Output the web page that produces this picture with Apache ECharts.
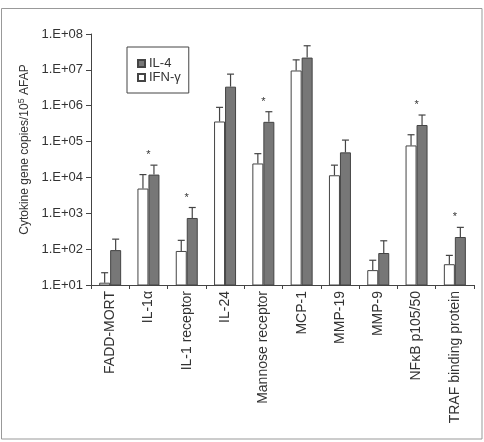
<!DOCTYPE html>
<html><head><meta charset="utf-8">
<script src="https://cdn.jsdelivr.net/npm/echarts@6/dist/echarts.min.js"></script>
<style>html,body{margin:0;padding:0;background:#fff}#c{width:484px;height:442px}</style>
</head><body><div id="c"></div>
<script>
const categories = ['FADD-MORT','IL-1\u03b1','IL-1 receptor','IL-24','Mannose receptor','MCP-1','MMP-19','MMP-9','NF\u03baB p105/50','TRAF binding protein'];
const ifnGamma    = [11.6, 4900, 89, 363000, 24500, 9.6e6, 11500, 26, 78000, 38];
const ifnGammaTop = [22, 12000, 176, 900000, 46000, 1.9e7, 22000, 49, 155000, 67];
const il4         = [94, 12000, 740, 3.4e6, 355000, 2.2e7, 50000, 78, 290000, 218];
const il4Top      = [190, 22000, 1450, 7.6e6, 680000, 4.7e7, 110000, 171, 550000, 405];
const significant = [false, true, true, false, true, false, false, false, true, true];
const yTickLabels = ['1.E+01','1.E+02','1.E+03','1.E+04','1.E+05','1.E+06','1.E+07','1.E+08'];

const BW = 11;
const ink = '#444';
const txt = '#333';
const font = '"Liberation Sans", Arial, sans-serif';

function errSeries(vals, tops, offset) {
  return {
    type: 'custom',
    silent: true,
    z: 5,
    data: vals.map((v, i) => [i, v, tops[i]]),
    renderItem: function (params, api) {
      const i = api.value(0);
      const b = api.coord([i, api.value(1)]);
      const t = api.coord([i, api.value(2)]);
      const x = b[0] + offset;
      const cw = 3.5;
      return {
        type: 'group',
        children: [
          {type: 'line', shape: {x1: x, y1: b[1], x2: x, y2: t[1]}, style: {stroke: ink, lineWidth: 1.2}},
          {type: 'line', shape: {x1: x - cw, y1: t[1], x2: x + cw, y2: t[1]}, style: {stroke: ink, lineWidth: 1.2}}
        ]
      };
    }
  };
}

const chart = echarts.init(document.getElementById('c'), null, {renderer: 'canvas'});
chart.setOption({
  animation: false,
  backgroundColor: '#fff',
  textStyle: {fontFamily: font},
  graphic: [{type: 'rect', shape: {x: 1.5, y: 8.5, width: 480.5, height: 430.5}, style: {fill: 'none', stroke: '#999', lineWidth: 1}, z: -1}],
  grid: {left: 91, right: 10, top: 34, bottom: 157},
  legend: {
    data: ['IL-4', 'IFN-\u03b3'],
    orient: 'vertical',
    left: 127, top: 47,
    padding: [10, 8, 9, 10],
    borderColor: ink, borderWidth: 1,
    itemWidth: 7, itemHeight: 7, itemGap: 1,
    icon: 'rect',
    textStyle: {fontSize: 13, color: txt, fontFamily: font, padding: [0, 0, 0, -1]}
  },
  xAxis: {
    type: 'category',
    data: categories,
    axisLine: {lineStyle: {color: ink, width: 1}},
    axisTick: {show: true, length: 4, lineStyle: {color: ink}},
    axisLabel: {rotate: 90, margin: 6, fontSize: 14, color: txt, fontFamily: font, interval: 0}
  },
  yAxis: {
    type: 'log',
    logBase: 10,
    min: 10, max: 1e8,
    name: 'Cytokine gene copies/10{s|5} AFAP',
    nameLocation: 'middle',
    nameGap: 54,
    nameRotate: 90,
    nameTextStyle: {fontSize: 12, color: txt, fontFamily: font, padding: [0, 0, 0, 20],
      rich: {s: {fontSize: 9, color: txt, fontFamily: font, padding: [0, 0, 7, 0]}}},
    axisLine: {show: true, lineStyle: {color: ink, width: 1}},
    axisTick: {show: true, length: 5, lineStyle: {color: ink}},
    splitLine: {show: false},
    minorTick: {show: false},
    axisLabel: {fontSize: 13, color: txt, fontFamily: font, margin: 8,
      formatter: v => yTickLabels[Math.round(Math.log10(v)) - 1]}
  },
  series: [
    {name: 'IFN-\u03b3', type: 'bar', data: ifnGamma, barWidth: BW, barGap: '0%',
     itemStyle: {color: '#fff', borderColor: ink, borderWidth: 1}},
    {name: 'IL-4', type: 'bar', data: il4, barWidth: BW, barGap: '0%',
     itemStyle: {color: '#777', borderColor: ink, borderWidth: 1}},
    errSeries(ifnGamma, ifnGammaTop, -BW / 2),
    errSeries(il4, il4Top, BW / 2),
    {
      type: 'custom', silent: true, z: 6,
      data: il4Top.map((v, i) => [i, v, significant[i] ? 1 : 0]),
      renderItem: function (params, api) {
        if (!api.value(2)) return null;
        const p = api.coord([api.value(0), api.value(1)]);
        return {type: 'text', style: {text: '*', x: p[0], y: p[1] - 10, fill: txt, font: '11px ' + font, textAlign: 'center', textVerticalAlign: 'middle'}};
      }
    }
  ]
});
</script></body></html>
